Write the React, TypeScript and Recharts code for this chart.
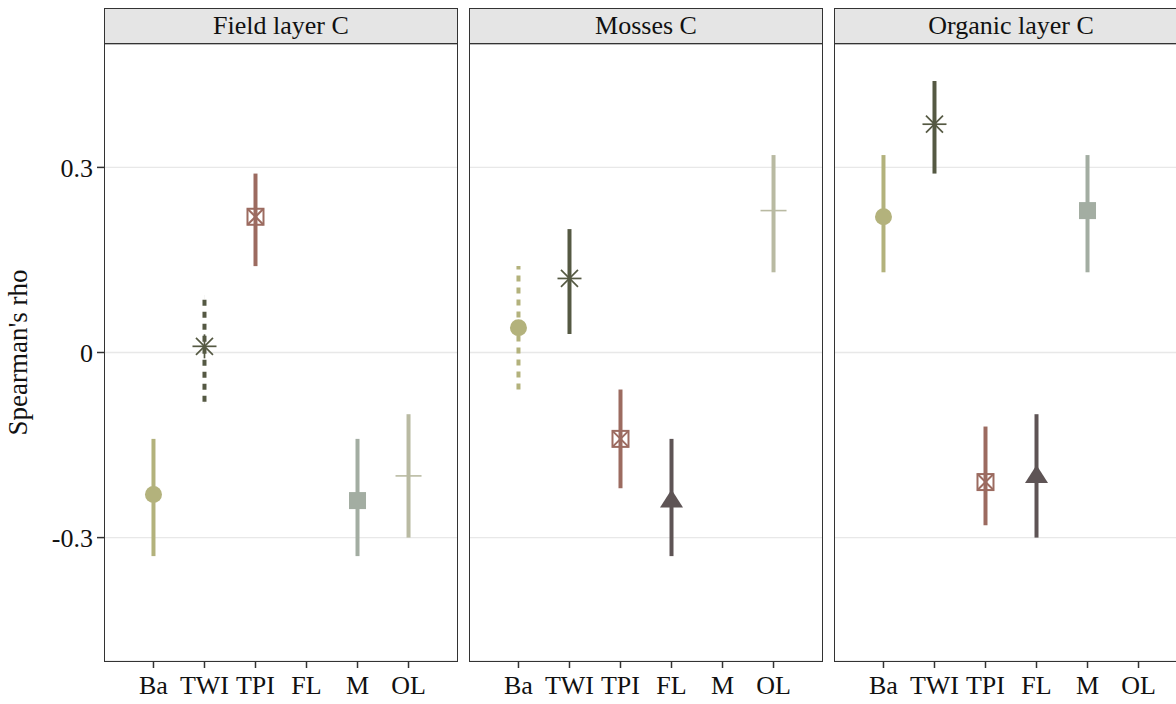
import React from 'react';
import { ScatterChart, Scatter, XAxis, YAxis, CartesianGrid, ErrorBar } from 'recharts';

// ---------------------------------------------------------------------------
// Data: Spearman's rho with confidence bounds
// ---------------------------------------------------------------------------

const categories = ['Ba', 'TWI', 'TPI', 'FL', 'M', 'OL'];
const panelTitles = ['Field layer C', 'Mosses C', 'Organic layer C'];

const fieldRho = [-0.23, 0.01, 0.22, null, -0.24, -0.2];
const fieldLow = [-0.33, -0.08, 0.14, null, -0.33, -0.3];
const fieldHigh = [-0.14, 0.09, 0.29, null, -0.14, -0.1];
const fieldSignificant = [true, false, true, null, true, true];

const mossRho = [0.04, 0.12, -0.14, -0.24, null, 0.23];
const mossLow = [-0.06, 0.03, -0.22, -0.33, null, 0.13];
const mossHigh = [0.14, 0.2, -0.06, -0.14, null, 0.32];
const mossSignificant = [false, true, true, true, null, true];

const organicRho = [0.22, 0.37, -0.21, -0.2, 0.23, null];
const organicLow = [0.13, 0.29, -0.28, -0.3, 0.13, null];
const organicHigh = [0.32, 0.44, -0.12, -0.1, 0.32, null];
const organicSignificant = [true, true, true, true, true, null];

const yTicks = [-0.3, 0, 0.3];

const panels = [
  { rho: fieldRho, low: fieldLow, high: fieldHigh, sig: fieldSignificant },
  { rho: mossRho, low: mossLow, high: mossHigh, sig: mossSignificant },
  { rho: organicRho, low: organicLow, high: organicHigh, sig: organicSignificant },
];

// ---------------------------------------------------------------------------
// Styling
// ---------------------------------------------------------------------------

const colors: Record<string, string> = {
  Ba: '#b3b27c',
  TWI: '#555943',
  TPI: '#9c6b60',
  FL: '#5e5455',
  M: '#a3ada2',
  OL: '#b9baa2',
};

const FONT = '"Liberation Serif", "Times New Roman", serif';
const PLOT_LEFT = [104, 469, 834];
const PLOT_W = 354;
const PLOT_TOP = 44;
const PLOT_H = 617;
const AXIS_H = 43;

function makeShape(cat: string) {
  const c = colors[cat];
  return (props: any) => {
    const { cx, cy } = props;
    if (cx == null || cy == null) return <g />;
    switch (cat) {
      case 'Ba':
        return <circle cx={cx} cy={cy} r={8.5} fill={c} />;
      case 'TWI':
        return (
          <g stroke={c} strokeWidth={1.7}>
            <line x1={cx - 12} y1={cy} x2={cx + 12} y2={cy} />
            <line x1={cx} y1={cy - 12} x2={cx} y2={cy + 12} />
            <line x1={cx - 8.5} y1={cy - 8.5} x2={cx + 8.5} y2={cy + 8.5} />
            <line x1={cx - 8.5} y1={cy + 8.5} x2={cx + 8.5} y2={cy - 8.5} />
          </g>
        );
      case 'TPI':
        return (
          <g stroke={c} strokeWidth={2} fill="none">
            <rect x={cx - 8} y={cy - 8} width={16} height={16} />
            <line x1={cx - 8} y1={cy - 8} x2={cx + 8} y2={cy + 8} />
            <line x1={cx - 8} y1={cy + 8} x2={cx + 8} y2={cy - 8} />
          </g>
        );
      case 'FL':
        return <path d={`M${cx},${cy - 11}L${cx + 11.5},${cy + 7}L${cx - 11.5},${cy + 7}Z`} fill={c} />;
      case 'M':
        return <rect x={cx - 8.5} y={cy - 8.5} width={17} height={17} fill={c} />;
      default:
        return (
          <g stroke={c} strokeWidth={1.6}>
            <line x1={cx - 13} y1={cy} x2={cx + 13} y2={cy} />
            <line x1={cx} y1={cy - 13} x2={cx} y2={cy + 13} />
          </g>
        );
    }
  };
}

function YLabel(props: any) {
  const { viewBox } = props;
  const cy = viewBox ? viewBox.y + viewBox.height / 2 : PLOT_H / 2;
  return (
    <text
      x={27}
      y={cy}
      transform={`rotate(-90, 27, ${cy})`}
      textAnchor="middle"
      fontFamily={FONT}
      fontSize={27}
      fill="#111"
    >
      Spearman's rho
    </text>
  );
}

function Panel({ index }: { index: number }) {
  const p = panels[index];
  const first = index === 0;
  const yAxisW = first ? PLOT_LEFT[0] : 0;
  const left = first ? 0 : PLOT_LEFT[index];
  const tickStyle = { fontFamily: FONT, fontSize: 26, fill: '#111' };

  return (
    <>
      <div
        style={{
          position: 'absolute',
          left: PLOT_LEFT[index],
          top: 8,
          width: PLOT_W,
          height: PLOT_TOP - 8 + 1,
          boxSizing: 'border-box',
          border: '1.5px solid #333',
          background: '#e5e5e5',
          fontFamily: FONT,
          fontSize: 26,
          color: '#111',
          textAlign: 'center',
          lineHeight: `${PLOT_TOP - 8 - 2}px`,
        }}
      >
        {panelTitles[index]}
      </div>
      <div style={{ position: 'absolute', left, top: PLOT_TOP }}>
        <ScatterChart
          width={yAxisW + PLOT_W}
          height={PLOT_H + AXIS_H}
          margin={{ top: 0, right: 0, bottom: 0, left: 0 }}
        >
          <CartesianGrid vertical={false} stroke="#e8e8e8" strokeWidth={1.3} />
          <XAxis
            type="number"
            dataKey="x"
            domain={[0.03, 6.97]}
            ticks={[1, 2, 3, 4, 5, 6]}
            tickFormatter={(v: number) => categories[v - 1]}
            allowDataOverflow
            axisLine={false}
            tickLine={{ stroke: '#333', strokeWidth: 1.5 }}
            tickSize={7}
            tickMargin={8}
            tick={tickStyle}
            height={AXIS_H}
            interval={0}
          />
          <YAxis
            type="number"
            dataKey="y"
            domain={[-0.5, 0.5]}
            ticks={yTicks}
            tickFormatter={(v: number) => (v === 0 ? '0' : v.toFixed(1))}
            allowDataOverflow
            hide={!first}
            width={yAxisW}
            axisLine={false}
            tickLine={{ stroke: '#333', strokeWidth: 1.5 }}
            tickSize={7}
            tickMargin={4}
            tick={tickStyle}
            label={first ? <YLabel /> : undefined}
          />
          {categories.map((cat, j) => {
            const rho = p.rho[j];
            if (rho == null) return null;
            const lo = p.low[j] as number;
            const hi = p.high[j] as number;
            const row = [{ x: j + 1, y: rho, err: [rho - lo, hi - rho] }];
            return (
              <Scatter
                key={cat}
                data={row}
                dataKey="y"
                shape={makeShape(cat)}
                isAnimationActive={false}
              >
                <ErrorBar
                  dataKey="err"
                  direction="y"
                  width={0}
                  stroke={colors[cat]}
                  strokeWidth={4}
                  strokeDasharray={p.sig[j] ? undefined : '6 6'}
                  isAnimationActive={false}
                />
              </Scatter>
            );
          })}
        </ScatterChart>
      </div>
      <div
        style={{
          position: 'absolute',
          left: PLOT_LEFT[index],
          top: PLOT_TOP - 1,
          width: PLOT_W,
          height: PLOT_H + 2,
          boxSizing: 'border-box',
          border: '1.5px solid #333',
          pointerEvents: 'none',
        }}
      />
    </>
  );
}

export default function App() {
  return (
    <div
      style={{
        position: 'fixed',
        left: 0,
        top: 0,
        width: 1176,
        height: 704,
        overflow: 'hidden',
        background: '#fff',
      }}
    >
      {panelTitles.map((_, i) => (
        <Panel key={i} index={i} />
      ))}
    </div>
  );
}
